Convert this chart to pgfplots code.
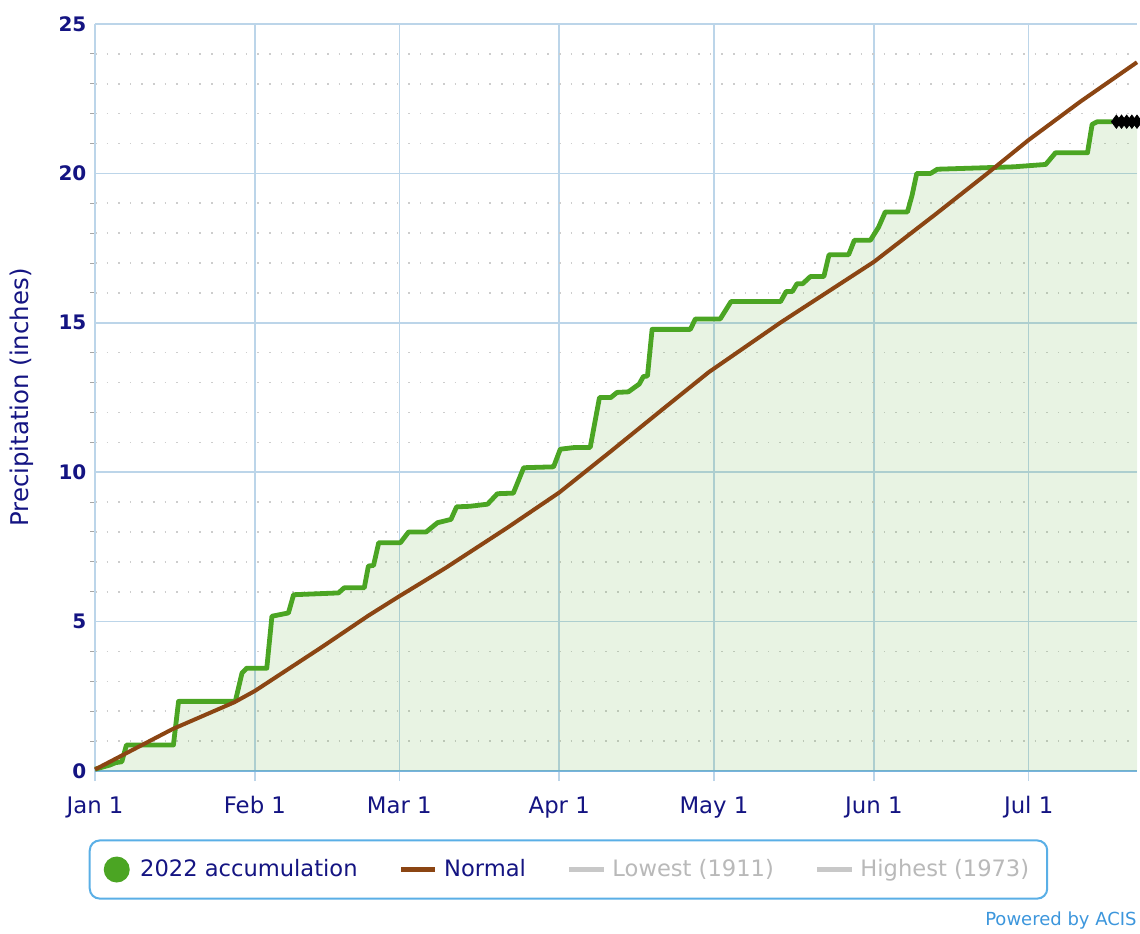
\documentclass[border=0pt]{standalone}
\usepackage{fontspec}
\setmainfont{DejaVu Sans}
\usepackage{pgfplots}
\pgfplotsset{compat=1.18}
\definecolor{navy}{RGB}{20,20,130}
\definecolor{accgreen}{RGB}{75,165,35}
\definecolor{normbrown}{RGB}{139,69,19}
\definecolor{gridblue}{RGB}{188,213,233}
\definecolor{axisblue}{RGB}{120,180,225}
\definecolor{legblue}{RGB}{90,175,230}
\definecolor{lgray}{RGB}{200,200,200}
\definecolor{ltext}{RGB}{185,185,185}
\definecolor{acis}{RGB}{60,150,220}
\definecolor{dotgray}{RGB}{205,205,205}

\pgfplotstableread{
d v
0 0.06
2.9 0.2
4 0.28
5.2 0.31
6.1 0.87
15.2 0.87
16.2 2.33
27.2 2.33
28.5 3.28
29.4 3.44
33.3 3.44
34.3 5.18
37.5 5.29
38.5 5.9
47.2 5.96
48.3 6.13
52.2 6.13
53 6.86
54 6.88
55 7.64
59.2 7.64
60.8 8.0
64.2 8.0
66.4 8.31
69 8.42
70.1 8.84
72.7 8.86
76.1 8.93
78 9.28
81.1 9.3
83.1 10.15
88.9 10.18
90.2 10.77
93.1 10.83
96 10.83
97.8 12.5
100 12.5
101.2 12.67
103.4 12.69
105.5 12.95
106.3 13.2
107.1 13.22
108 14.78
115.4 14.78
116.4 15.13
121.2 15.13
123.3 15.71
132.9 15.71
134 16.05
135.2 16.05
136.1 16.31
137.2 16.31
138.7 16.55
141.3 16.55
142.3 17.28
146.1 17.28
147.2 17.76
150.3 17.76
151.9 18.2
153.2 18.71
157.5 18.71
158.4 19.27
159.3 20.0
162 20.0
163.3 20.14
178.1 20.22
184.3 20.3
186.2 20.69
192.4 20.69
193.3 21.64
194.3 21.73
197.2 21.73
}\acc

\pgfplotstableread{
d v
0 0.06
2.9 0.2
4 0.28
5.2 0.31
6.1 0.87
15.2 0.87
16.2 2.33
27.2 2.33
28.5 3.28
29.4 3.44
33.3 3.44
34.3 5.18
37.5 5.29
38.5 5.9
47.2 5.96
48.3 6.13
52.2 6.13
53 6.86
54 6.88
55 7.64
59.2 7.64
60.8 8.0
64.2 8.0
66.4 8.31
69 8.42
70.1 8.84
72.7 8.86
76.1 8.93
78 9.28
81.1 9.3
83.1 10.15
88.9 10.18
90.2 10.77
93.1 10.83
96 10.83
97.8 12.5
100 12.5
101.2 12.67
103.4 12.69
105.5 12.95
106.3 13.2
107.1 13.22
108 14.78
115.4 14.78
116.4 15.13
121.2 15.13
123.3 15.71
132.9 15.71
134 16.05
135.2 16.05
136.1 16.31
137.2 16.31
138.7 16.55
141.3 16.55
142.3 17.28
146.1 17.28
147.2 17.76
150.3 17.76
151.9 18.2
153.2 18.71
157.5 18.71
158.4 19.27
159.3 20.0
162 20.0
163.3 20.14
178.1 20.22
184.3 20.3
186.2 20.69
192.4 20.69
193.3 21.64
194.3 21.73
197.2 21.73
202 21.73
}\accfill

\pgfplotstableread{
d v
0 0.05
15 1.4
27 2.3
31 2.68
44 4.15
53 5.2
59 5.85
63 6.27
68 6.8
80 8.15
90 9.32
100 10.7
110 12.1
119 13.35
133 15.02
142 16.03
151 17.04
163 18.64
173 20.0
181 21.12
191 22.4
202 23.72
}\normal

\pgfplotstableread{
d v
198 21.73
199 21.73
200 21.73
201 21.73
202 21.73
}\missing

\begin{document}
\begin{tikzpicture}[x=1pt,y=1pt]
\useasboundingbox (0,0) rectangle (570,466.5);
\begin{axis}[
  at={(47.5pt,81pt)}, anchor=south west,
  width=521pt, height=373.5pt, scale only axis,
  xmin=0, xmax=202, ymin=0, ymax=25,
  clip=false,
  axis x line*=bottom, axis y line*=left,
  x axis line style={draw=axisblue, line width=0.9pt},
  y axis line style={draw=gridblue, line width=0.8pt},
  tick align=outside,
  xtick={0,31,59,90,120,151,181},
  xticklabels={Jan 1,Feb 1,Mar 1,Apr 1,May 1,Jun 1,Jul 1},
  xtick style={draw=gridblue, line width=0.8pt, /pgfplots/major tick length=5pt},
  xticklabel style={font=\fontsize{11.4}{13}\selectfont, text=navy, yshift=-5pt},
  ytick={0,5,10,15,20,25},
  yticklabels={0,5,10,15,20,25},
  minor ytick={1,2,3,4,6,7,8,9,11,12,13,14,16,17,18,19,21,22,23,24},
  ytick style={draw=none},
  minor y tick style={draw=gray!70, line width=0.5pt, /pgfplots/minor tick length=2.5pt},
  yticklabel style={font=\fontsize{10}{12}\selectfont\bfseries, text=navy, xshift=3.5pt},
  xmajorgrids, ymajorgrids, yminorgrids,
  major grid style={draw=gridblue, line width=0.8pt},
  minor grid style={draw=dotgray, line width=0.8pt, dash pattern=on 0.8pt off 5pt},
  ylabel={Precipitation (inches)},
  ylabel style={at={(axis description cs:-0.07,0.5)}, anchor=center, font=\fontsize{12.2}{14}\selectfont, text=navy},
  legend columns=-1,
  legend style={at={(0.4544,-0.1319)}, anchor=center, draw=legblue, line width=1pt,
    rounded corners=5pt, font=\fontsize{11.3}{13}\selectfont, text=navy,
    inner xsep=7pt, inner ysep=7.5pt,
    /tikz/every even column/.append style={column sep=18.5pt},
    /tikz/every odd column/.append style={column sep=1.2pt}},
]
\addplot[draw=none, fill=accgreen, fill opacity=0.13, forget plot] table[x=d,y=v] {\accfill} \closedcycle;
\addplot[accgreen, line width=2.4pt, line join=round, forget plot] table[x=d,y=v] {\acc};
\addplot[normbrown, line width=2pt, line join=round, forget plot] table[x=d,y=v] {\normal};
\addplot[only marks, mark=diamond*, mark size=3.3pt, black, forget plot] table[x=d,y=v] {\missing};

\addlegendimage{legend image code/.code={\path[draw=none,fill=none] (0pt,0pt) -- (15pt,0pt); \fill[accgreen, draw=none] (6.5pt,0pt) circle (6.5pt);}}
\addlegendentry{2022 accumulation}
\addlegendimage{normbrown, line width=2.5pt}
\addlegendentry{Normal}
\addlegendimage{lgray, line width=2.5pt}
\addlegendentry{\textcolor{ltext}{Lowest (1911)}}
\addlegendimage{lgray, line width=2.5pt}
\addlegendentry{\textcolor{ltext}{Highest (1973)}}
\end{axis}
\node[anchor=east, font=\fontsize{9}{11}\selectfont, text=acis, inner sep=0pt] at (568.5,6) {Powered by ACIS};
\end{tikzpicture}
\end{document}
